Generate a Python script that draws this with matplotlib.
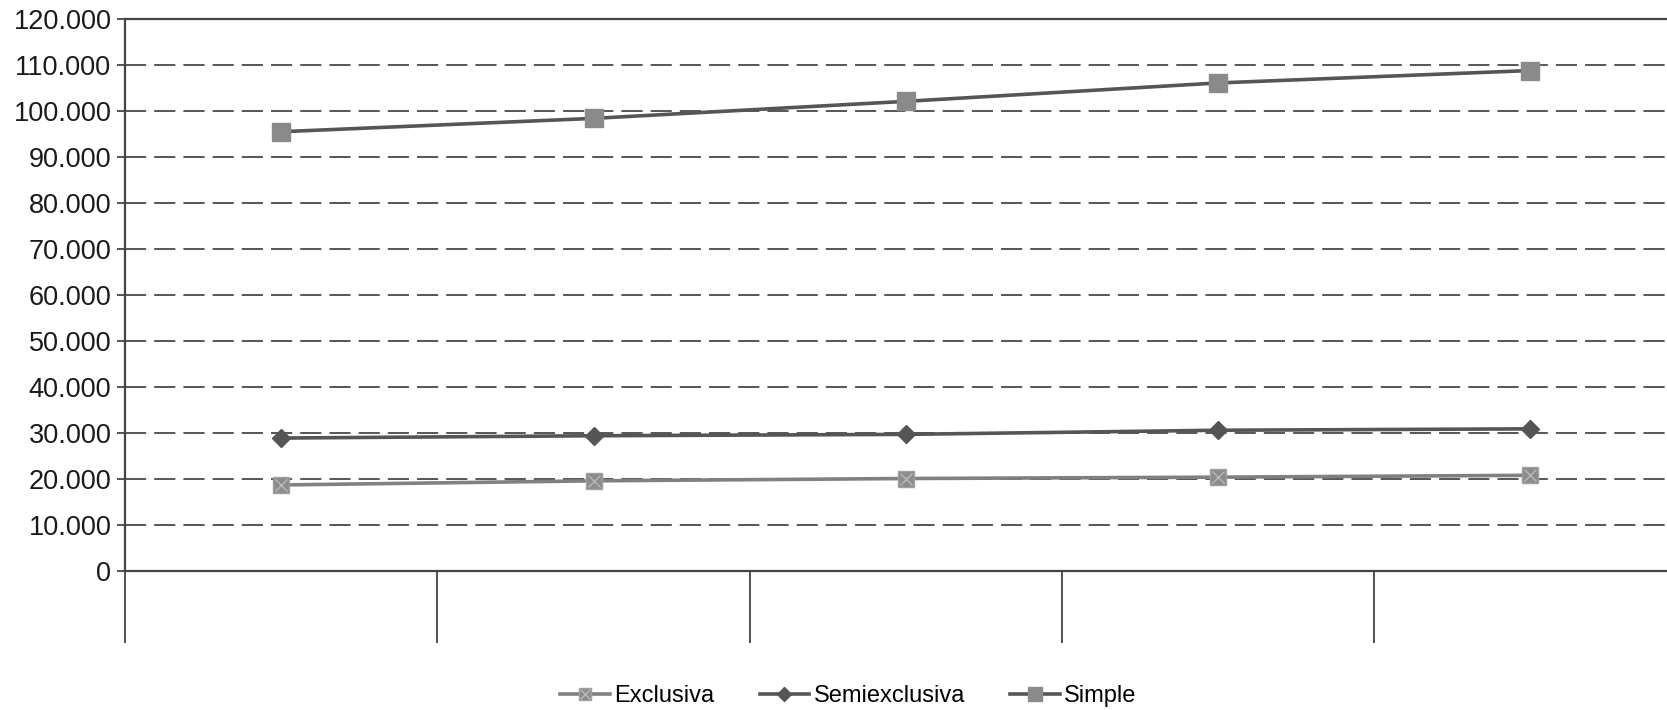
import matplotlib
matplotlib.use('Agg')
import matplotlib.pyplot as plt
from matplotlib.legend_handler import HandlerTuple
from matplotlib.ticker import FuncFormatter

# values (five categories, no labels shown)
categories = [1, 2, 3, 4, 5]
exclusiva = [18700, 19600, 20100, 20400, 20800]
semiexclusiva = [28900, 29400, 29700, 30600, 30900]
simple = [95500, 98400, 102100, 106100, 108800]
yticks = list(range(0, 120001, 10000))

plt.rcParams['font.family'] = ['Liberation Sans', 'DejaVu Sans']

fig = plt.figure(figsize=(16.67, 7.1), dpi=100)
ax = fig.add_axes([0.0752, 0.1958, 0.9362, 0.7774])

ax.set_xlim(0.5, 5.5)
ax.set_ylim(0, 120000)

for y in yticks[1:-1]:
    ax.axhline(y, color='#5a5a5a', lw=1.45, ls=(0, (10.5, 4)), zorder=1)

# Exclusiva: light square with an x inside
l_ex, = ax.plot(categories, exclusiva, color='#808080', lw=2.6, marker='s',
                ms=12, mfc='#8c8c8c', mec='#a0a0a0', zorder=3)
x_ex, = ax.plot(categories, exclusiva, ls='none', marker='x', ms=9,
                mec='#b8b8b8', mew=1, zorder=4)
l_se, = ax.plot(categories, semiexclusiva, color='#555555', lw=2.6, marker='D',
                ms=9, mfc='#555555', mec='#555555', zorder=3)
l_si, = ax.plot(categories, simple, color='#555555', lw=2.6, marker='s',
                ms=12.5, mfc='#8a8a8a', mec='#8a8a8a', zorder=3)

ax.set_yticks(yticks)
ax.yaxis.set_major_formatter(FuncFormatter(lambda v, p: f'{int(v):,}'.replace(',', '.')))
ax.tick_params(axis='y', direction='out', length=6, width=1.2, color='#333333',
               labelsize=19.5, labelcolor='#1a1a1a', pad=4)

ax.set_xticks([0.5, 1.5, 2.5, 3.5, 4.5])
ax.set_xticklabels([])
ax.tick_params(axis='x', direction='out', length=52, width=1.2, color='#333333')

for s in ['left', 'top', 'bottom']:
    ax.spines[s].set_color('#444444')
    ax.spines[s].set_linewidth(1.6)
ax.spines['right'].set_visible(False)

fig.legend([(l_ex, x_ex), l_se, l_si], ['Exclusiva', 'Semiexclusiva', 'Simple'],
           handler_map={tuple: HandlerTuple(ndivide=1, pad=0)},
           loc='center', bbox_to_anchor=(0.509, 0.02), ncol=3, frameon=False,
           fontsize=17, handlelength=2.1, handletextpad=0.2, columnspacing=1.9,
           markerscale=0.75)

fig.savefig('out.png', dpi=100)
